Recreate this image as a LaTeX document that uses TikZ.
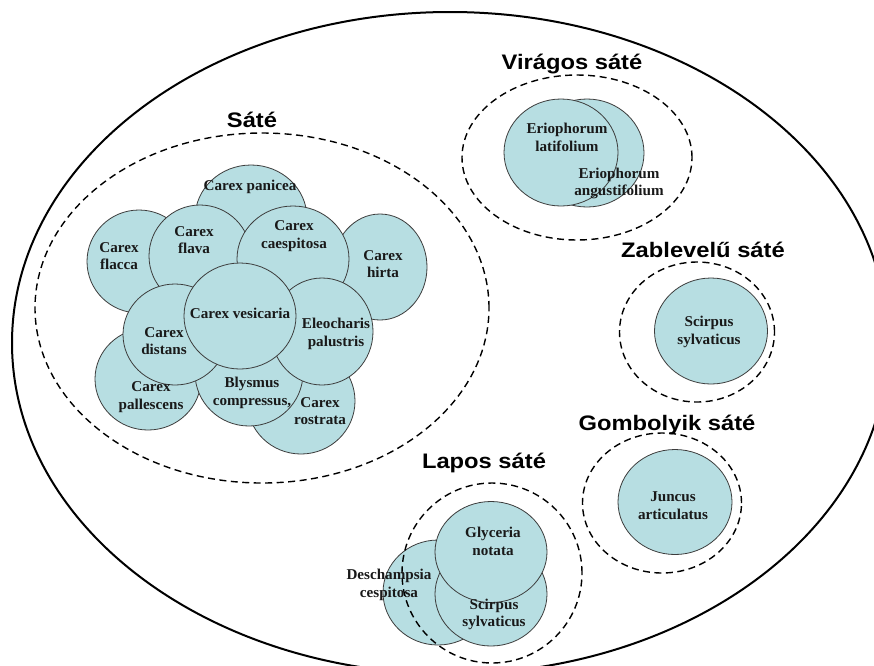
\documentclass[tikz,border=0pt]{standalone}
\usepackage{fontspec}
\usetikzlibrary{shapes.geometric}
\newfontfamily\spfont{Liberation Serif}[FakeStretch=1.01]
\newfontfamily\lbfont{Liberation Sans}[FakeStretch=1.13]
\definecolor{sfill}{RGB}{183,222,226}
\definecolor{sline}{RGB}{60,60,60}
\begin{document}
\begin{tikzpicture}[x=1pt,y=-1pt,
  sp/.style={ellipse, draw=sline, fill=sfill, line width=0.8pt, inner sep=0pt, outer sep=0pt},
  tx/.style={font=\spfont\bfseries\fontsize{15}{17.5}\selectfont, align=center, text=black!90, inner sep=0pt},
  grp/.style={font=\lbfont\bfseries\fontsize{21}{25}\selectfont, anchor=base, inner sep=0pt},
  dsh/.style={ellipse, draw=black, line width=1.4pt, dash pattern=on 7pt off 4.5pt, inner sep=0pt, outer sep=0pt},
  outer/.style={ellipse, draw=black, line width=2pt, inner sep=0pt, outer sep=0pt}]
\useasboundingbox (0,0) rectangle (874,665);
\fill[white] (0,0) rectangle (874,665);
\begin{scope}
\clip (0,0) rectangle (874,665);
\node[outer, minimum width=876pt, minimum height=662pt] (whole) at (450,343) {};
\end{scope}

% Sate group
\node[dsh, minimum width=454pt, minimum height=350pt] (gSate) at (262,308) {};
\node[sp, minimum width=112pt, minimum height=106pt] (panicea) at (251,218) {};
\node[sp, minimum width=104pt, minimum height=103pt] (flacca) at (139,261.5) {};
\node[sp, minimum width=94pt, minimum height=106pt] (hirta) at (380,267) {};
\node[sp, minimum width=108pt, minimum height=106pt] (rostrata) at (301,401) {};
\node[sp, minimum width=106pt, minimum height=102pt] (pallescens) at (148,379) {};
\node[sp, minimum width=102pt, minimum height=102pt] (flava) at (200,256) {};
\node[sp, minimum width=112pt, minimum height=106pt] (caespitosa) at (293,259) {};
\node[sp, minimum width=108pt, minimum height=106pt] (blysmus) at (249,373) {};
\node[sp, minimum width=104pt, minimum height=101pt] (distans) at (175,334.5) {};
\node[sp, minimum width=102pt, minimum height=107pt] (eleocharis) at (322,331.5) {};
\node[sp, minimum width=112pt, minimum height=106pt] (vesicaria) at (240,316) {};

\node[tx] (tpanicea) at (250,187) {Carex panicea};
\node[tx] (tflacca) at (119,256) {Carex\\flacca};
\node[tx] (tflava) at (194,240) {Carex\\flava};
\node[tx] (tcaespitosa) at (294,236) {Carex\\caespitosa};
\node[tx] (thirta) at (383,264) {Carex\\hirta};
\node[tx] (tvesicaria) at (240,313) {Carex vesicaria};
\node[tx] (televocharis) at (336,334) {Eleocharis\\palustris};
\node[tx] (tdistans) at (164,341) {Carex\\distans};
\node[tx] (tpallescens) at (151,397) {Carex\\pallescens};
\node[tx] (tblysmus) at (252,393) {Blysmus\\compressus,};
\node[tx] (trostrata) at (320,411) {Carex\\rostrata};
\node[grp] (lSate) at (252,127) {Sáté};

% Viragos sate
\node[dsh, minimum width=230pt, minimum height=165pt] (gVir) at (577,157.5) {};
\node[sp, minimum width=114pt, minimum height=108pt] (angus) at (587,153) {};
\node[sp, minimum width=114pt, minimum height=107pt] (latif) at (561,152.5) {};
\node[tx] (tlatif) at (567,137.5) {Eriophorum\\latifolium};
\node[tx] (tangus) at (619,183.5) {Eriophorum\\angustifolium};
\node[grp] (lVir) at (572,69) {Virágos sáté};

% Zablevelu sate
\node[dsh, minimum width=155pt, minimum height=140pt] (gZab) at (697,332) {};
\node[sp, minimum width=113pt, minimum height=106pt] (scirpusA) at (711,331) {};
\node[tx] (tscirpusA) at (709,332) {Scirpus\\sylvaticus};
\node[grp] (lZab) at (703,257) {Zablevelű sáté};

% Gombolyik sate
\node[dsh, minimum width=159pt, minimum height=140pt] (gGomb) at (662,503) {};
\node[sp, minimum width=114pt, minimum height=105pt] (juncus) at (675,502) {};
\node[tx] (tjuncus) at (673,505.5) {Juncus\\articulatus};
\node[grp] (lGomb) at (667,430) {Gombolyik sáté};

% Lapos sate
\node[sp, minimum width=110pt, minimum height=105pt] (desch) at (438,592.5) {};
\node[sp, minimum width=112pt, minimum height=104pt] (scirpusB) at (491,594) {};
\node[sp, minimum width=112pt, minimum height=101pt] (glyceria) at (491,552) {};
\node[dsh, minimum width=180pt, minimum height=180pt] (gLap) at (492,573) {};
\node[tx] (tdesch) at (389,585) {Deschampsia\\cespitosa};
\node[tx] (tglyceria) at (493,541.5) {Glyceria\\notata};
\node[tx] (tscirpusB) at (494,614.5) {Scirpus\\sylvaticus};
\node[grp] (lLap) at (484,468) {Lapos sáté};
\end{tikzpicture}
\end{document}
